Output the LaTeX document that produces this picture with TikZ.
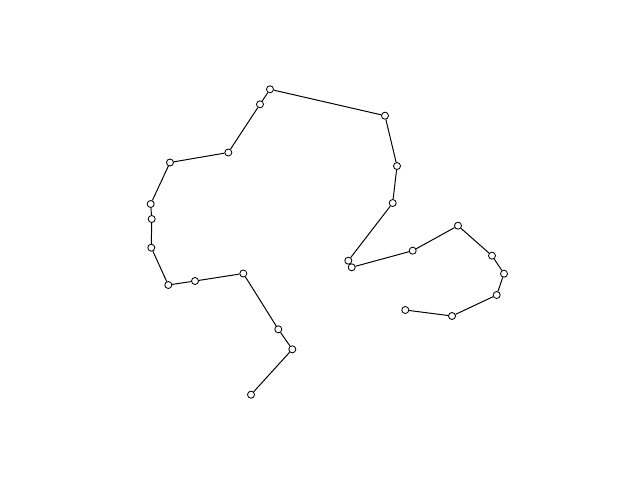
\documentclass[tikz,border=0pt]{standalone}
\usepackage{tikz}

\begin{document}
\begin{tikzpicture}[x=0.025cm,y=-0.025cm,
  pt/.style={circle,draw,fill=white,inner sep=0pt,minimum size=5pt,line width=0.6pt}]
  \useasboundingbox (0,0) rectangle (640,480);

  % Points
  \foreach \x/\y [count=\i] in {251/394.7,292.3/349.3,278.3/329.3,243.3/273.5,195/281,
      168.3/285,151.3/247.7,151.7/219,150.7/204,170/162.5,228.3/152.5,260/104.3,270/89.3,
      385/115.7,397/166,392.7/203,348.3/260.7,351.7/267.3,412.7/250.7,458/225.7,
      492/255.7,504/273.7,496.7/295,452/316,405.3/310}
    \node[pt] (p\i) at (\x,\y) {};

  % Path
  \foreach \i [evaluate=\i as \j using {int(\i+1)}] in {1,...,24}
    \draw[line width=0.7pt] (p\i) -- (p\j);
\end{tikzpicture}
\end{document}
